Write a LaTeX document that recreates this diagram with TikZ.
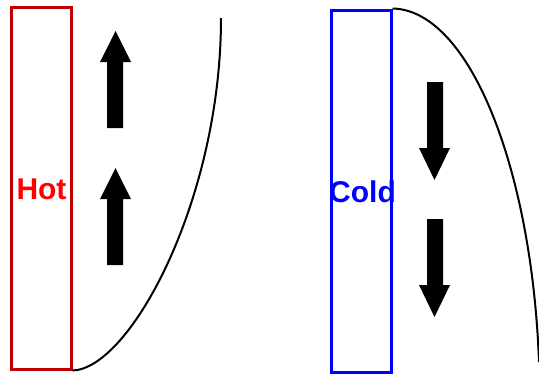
\documentclass[tikz,border=0pt]{standalone}
\usepackage{fontspec}
\setmainfont{Liberation Sans}
\usetikzlibrary{positioning}
\definecolor{hotframe}{RGB}{192,0,0}
\definecolor{hottext}{RGB}{255,0,0}
\definecolor{coldblue}{RGB}{0,0,255}
\tikzset{
  plate/.style    = {draw, line width=3pt, minimum width=60pt, minimum height=362pt, inner sep=0pt},
  platelabel/.style = {anchor=base, inner sep=0pt, font=\fontsize{30}{36}\selectfont\bfseries},
  profile/.style  = {line width=2pt}
}
\begin{document}
\begin{tikzpicture}[x=1pt, y=-1pt]
  \useasboundingbox (0,0) rectangle (539,375);
  % plates
  \node[plate, hotframe]  (hot)  at (41,188)  {};
  \node[plate, coldblue]  (cold) at (361,191) {};
  \node[platelabel, text=hottext]  (hotlabel)  at (41.5,199) {Hot};
  \node[platelabel, text=coldblue] (coldlabel) at (362.5,202) {Cold};
  % boundary layer profiles
  \coordinate (hottop)  at (221,18);
  \coordinate (coldend) at (539,362);
  \draw[profile] (hot.south east) .. controls (130,369) and (221,200) .. (hottop);
  \draw[profile] (cold.north east) .. controls (470,10) and (532,170) .. (coldend);
  % flow direction
  \foreach \dy in {0,137}
    \fill (107,128+\dy) -- (107,62+\dy) -- (100,62+\dy) -- (115.5,31+\dy)
          -- (131,62+\dy) -- (123,62+\dy) -- (123,128+\dy) -- cycle;
  \foreach \dy in {0,137}
    \fill (427,82+\dy) -- (427,148+\dy) -- (419,148+\dy) -- (434.5,180+\dy)
          -- (450,148+\dy) -- (443,148+\dy) -- (443,82+\dy) -- cycle;
\end{tikzpicture}
\end{document}
